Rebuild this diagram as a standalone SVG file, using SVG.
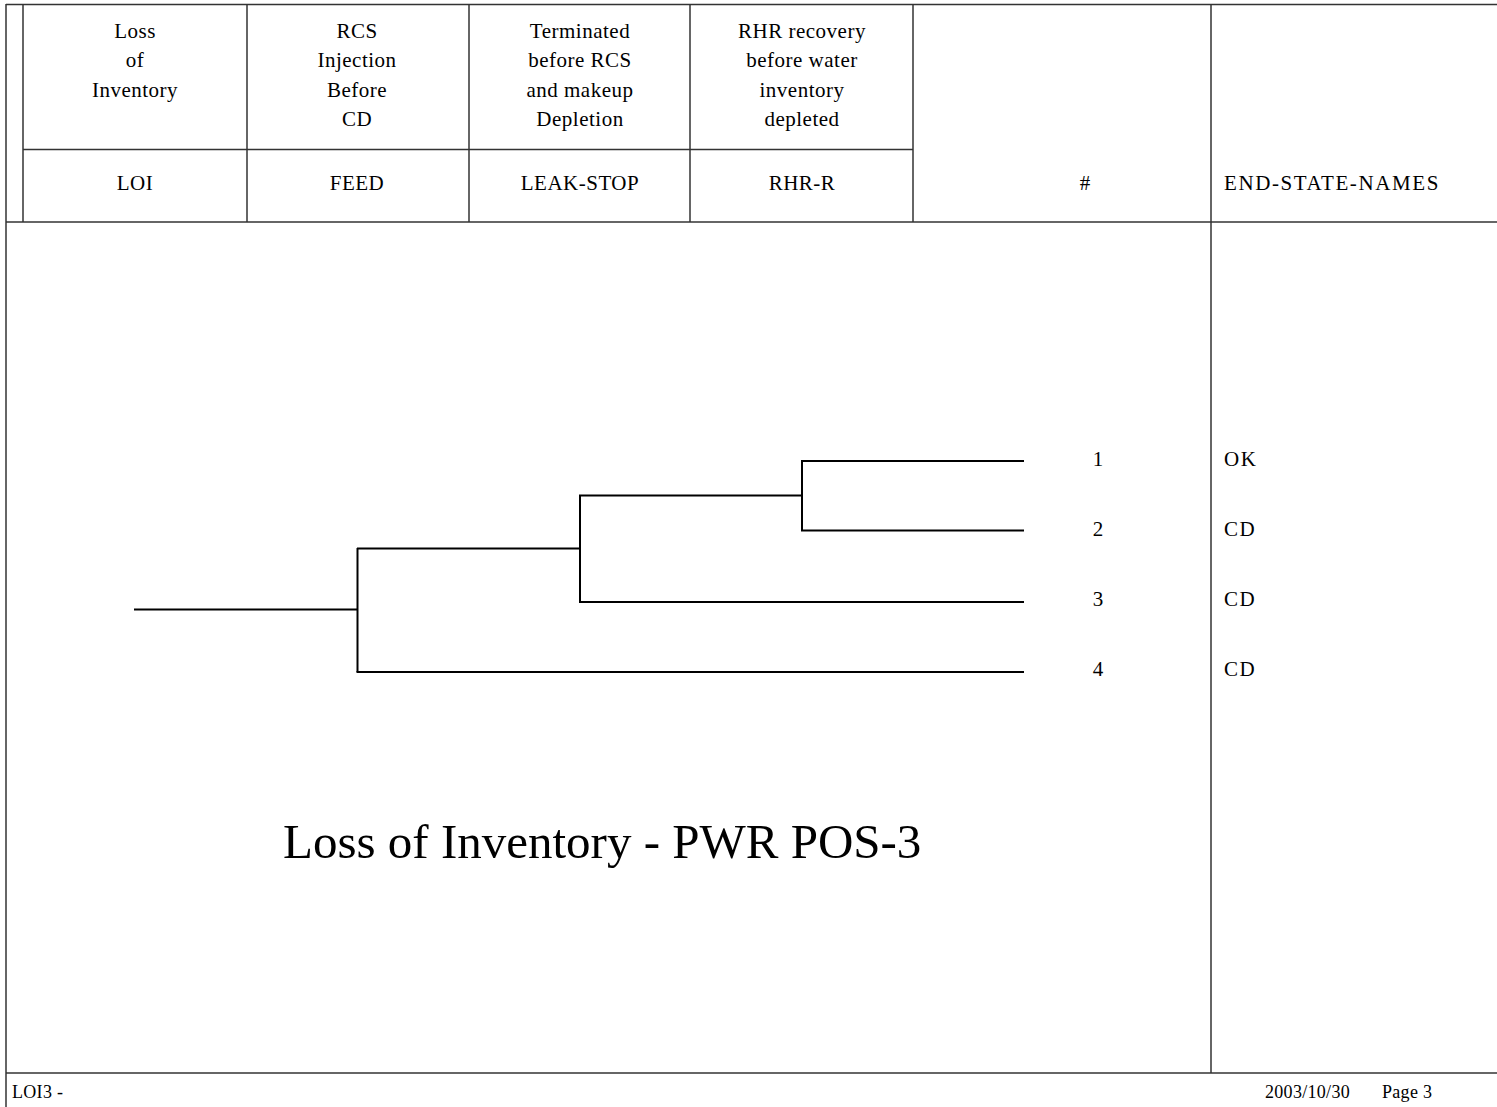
<svg xmlns="http://www.w3.org/2000/svg" width="1497" height="1107" viewBox="0 0 1497 1107">
<style>
.frame{stroke:#333;stroke-width:1.5;fill:none}
.br{stroke:#000;stroke-width:2;fill:none}
text{font-family:"Liberation Serif","Times New Roman",serif;fill:#000}
.h{font-size:21px;letter-spacing:0.5px;text-anchor:middle}
.l{font-size:21px;letter-spacing:1.6px}
.n{font-size:21px;text-anchor:middle}
.f{font-size:18px;letter-spacing:0.3px}
.t{font-size:49px}
</style>
<rect width="1497" height="1107" fill="#fff"/>
<g id="frame" class="frame">
<line x1="6" y1="4.5" x2="1497" y2="4.5"/>
<line x1="6" y1="4" x2="6" y2="1107"/>
<line x1="23" y1="4" x2="23" y2="222"/>
<line x1="6" y1="222" x2="1497" y2="222"/>
<line x1="23" y1="149.5" x2="913" y2="149.5"/>
<line x1="247" y1="4" x2="247" y2="222"/>
<line x1="469" y1="4" x2="469" y2="222"/>
<line x1="690" y1="4" x2="690" y2="222"/>
<line x1="913" y1="4" x2="913" y2="222"/>
<line x1="1211" y1="4" x2="1211" y2="1073"/>
<line x1="6" y1="1073" x2="1497" y2="1073"/>
</g>
<g id="header-LOI">
<text class="h" x="135" y="38">Loss</text>
<text class="h" x="135" y="67">of</text>
<text class="h" x="135" y="97">Inventory</text>
<text class="h" x="135" y="190">LOI</text>
</g>
<g id="header-FEED">
<text class="h" x="357" y="38">RCS</text>
<text class="h" x="357" y="67">Injection</text>
<text class="h" x="357" y="97">Before</text>
<text class="h" x="357" y="126">CD</text>
<text class="h" x="357" y="190">FEED</text>
</g>
<g id="header-LEAK-STOP">
<text class="h" x="580" y="38">Terminated</text>
<text class="h" x="580" y="67">before RCS</text>
<text class="h" x="580" y="97">and makeup</text>
<text class="h" x="580" y="126">Depletion</text>
<text class="h" x="580" y="190">LEAK-STOP</text>
</g>
<g id="header-RHR-R">
<text class="h" x="802" y="38">RHR recovery</text>
<text class="h" x="802" y="67">before water</text>
<text class="h" x="802" y="97">inventory</text>
<text class="h" x="802" y="126">depleted</text>
<text class="h" x="802" y="190">RHR-R</text>
</g>
<g id="header-num"><text class="n" x="1085" y="190">#</text></g>
<g id="header-end"><text class="l" x="1224" y="190">END-STATE-NAMES</text></g>
<g id="connectors" class="br">
<line x1="134" y1="609.5" x2="358" y2="609.5"/>
<line x1="357.5" y1="548" x2="357.5" y2="672"/>
<line x1="357" y1="548.5" x2="581" y2="548.5"/>
<line x1="580" y1="495" x2="580" y2="602"/>
<line x1="579" y1="495.5" x2="803" y2="495.5"/>
<line x1="802" y1="460.5" x2="802" y2="530"/>
<line x1="801" y1="461" x2="1024" y2="461"/>
<line x1="801" y1="530.5" x2="1024" y2="530.5"/>
<line x1="579" y1="602" x2="1024" y2="602"/>
<line x1="356.5" y1="672" x2="1024" y2="672"/>
</g>
<g id="seq1"><text class="n" x="1098" y="466">1</text><text class="l" x="1224" y="466">OK</text></g>
<g id="seq2"><text class="n" x="1098" y="536">2</text><text class="l" x="1224" y="536">CD</text></g>
<g id="seq3"><text class="n" x="1098" y="606">3</text><text class="l" x="1224" y="606">CD</text></g>
<g id="seq4"><text class="n" x="1098" y="676">4</text><text class="l" x="1224" y="676">CD</text></g>
<g id="title"><text class="t" x="283" y="858">Loss of Inventory - PWR POS-3</text></g>
<g id="footer">
<text class="f" x="12" y="1098">LOI3 -</text>
<text class="f" x="1265" y="1098">2003/10/30</text>
<text class="f" x="1382" y="1098">Page 3</text>
</g>
</svg>
